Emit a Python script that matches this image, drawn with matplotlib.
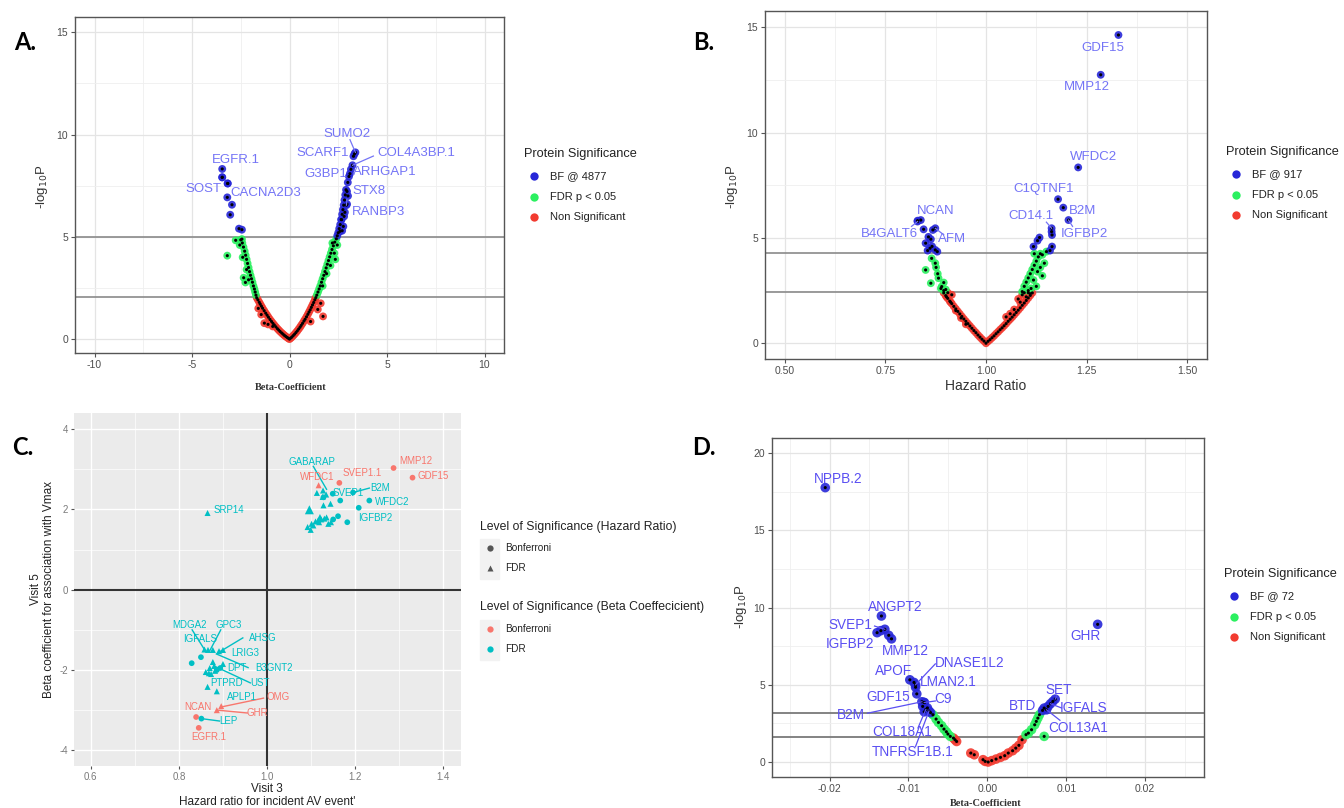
import matplotlib
matplotlib.use('Agg')
import matplotlib.pyplot as plt
from matplotlib.lines import Line2D
from matplotlib.patches import Rectangle

plt.rcParams['font.family'] = ['Liberation Sans', 'DejaVu Sans']
plt.rcParams['axes.unicode_minus'] = False

# ---------------- panel A: beta coefficient volcano ----------------
a_blue_x = [-3.45, -3.17, -3.19, -2.95, -3.04, -2.59, -2.44,
            2.45, 2.5, 2.55, 2.6, 2.65, 2.7, 2.74, 2.78, 2.82, 2.86, 2.9, 2.99, 3.15,
            2.76, 2.59, 2.67, 2.84, 2.95, 2.7, 2.8, 3.0, 3.33]
a_blue_y = [7.91, 7.61, 6.93, 6.57, 6.08, 5.40, 5.35,
            5.05, 5.2, 5.4, 5.6, 5.85, 6.1, 6.33, 6.55, 6.8, 7.05, 7.3, 7.66, 8.3,
            5.51, 5.27, 5.84, 6.2, 6.6, 5.3, 6.0, 7.0, 9.05]
a_green_x = [-1.72, -1.76, -1.8, -1.85, -1.9, -1.95, -2.0, -2.05, -2.1, -2.15, -2.2, -2.25,
             -2.3, -2.36, -2.42, -2.5, -2.26, -2.35, -2.76, -2.44, -3.19, -2.2, -2.55, -2.4, -2.1,
             1.4, 1.46, 1.52, 1.58, 1.64, 1.7, 1.76, 1.82, 1.88, 1.94, 2.0, 2.06, 2.12, 2.18,
             2.25, 2.32, 2.4, 2.1, 2.3, 1.9, 2.45, 1.7, 2.2, 2.35]
a_green_y = [2.15, 2.3, 2.45, 2.6, 2.78, 2.95, 3.12, 3.3, 3.5, 3.7, 3.9, 4.1,
             4.3, 4.5, 4.7, 4.85, 2.77, 3.0, 4.83, 4.89, 4.08, 3.4, 4.6, 4.0, 2.9,
             2.15, 2.3, 2.45, 2.6, 2.78, 2.95, 3.12, 3.3, 3.48, 3.66, 3.84, 4.02, 4.2, 4.38,
             4.56, 4.74, 4.9, 3.6, 4.2, 3.2, 4.6, 2.6, 4.7, 3.9]
a_red_x = [-1.68, -1.62, -1.55, -1.5, -1.44, -1.38, -1.3, -1.22, -1.15, -1.08, -1.0, -0.92,
           -0.85, -0.78, -0.7, -0.62, -0.55, -0.48, -0.4, -0.33, -0.26, -0.19, -0.12, -0.06, 0.0,
           0.06, 0.12, 0.19, 0.26, 0.33, 0.4, 0.47, 0.54, 0.6, 0.67, 0.74, 0.8, 0.87, 0.94,
           1.0, 1.06, 1.12, 1.18, 1.24, 1.3, 1.35,
           -1.29, -0.86, -1.1, -1.45, -1.6, 1.72, 1.08, 1.45, 1.6]
a_red_y = [2.02, 1.92, 1.80, 1.71, 1.61, 1.51, 1.39, 1.27, 1.17, 1.07, 0.96, 0.86,
           0.77, 0.69, 0.60, 0.51, 0.44, 0.37, 0.30, 0.24, 0.18, 0.13, 0.08, 0.04, 0.0,
           0.05, 0.10, 0.17, 0.24, 0.32, 0.40, 0.49, 0.58, 0.67, 0.77, 0.88, 0.97, 1.09, 1.21,
           1.32, 1.43, 1.55, 1.67, 1.79, 1.92, 2.03,
           0.78, 0.62, 0.72, 1.2, 1.5, 1.11, 0.86, 1.45, 1.75]
a_genes = ['EGFR.1', 'SOST', 'CACNA2D3', 'SUMO2', 'SCARF1', 'COL4A3BP.1',
           'G3BP1', 'ARHGAP1', 'STX8', 'RANBP3']
a_gene_x = [-3.45, -3.45, -3.17, 3.38, 3.28, 3.23, 3.05, 3.1, 2.95, 2.92]
a_gene_y = [8.32, 7.91, 7.61, 9.13, 8.94, 8.5, 7.95, 8.09, 7.22, 6.55]
a_bf, a_fdr = 4.99, 2.06

# ---------------- panel B: hazard ratio volcano ----------------
b_blue_x = [0.83, 0.845, 0.868, 0.863, 0.85, 0.861, 0.874, 0.879, 0.857, 0.866, 0.855,
            1.163, 1.164, 1.133, 1.128, 1.118, 1.164, 1.159]
b_blue_y = [5.82, 5.41, 5.38, 4.94, 4.75, 4.51, 4.43, 4.35, 5.05, 4.6, 4.4,
            5.30, 5.14, 5.02, 4.87, 4.59, 4.59, 4.40]
b_green_x = [0.895, 0.89, 0.895, 0.882, 0.863, 0.874, 0.865, 0.85, 0.876, 0.88, 0.888, 0.9,
             1.09, 1.095, 1.1, 1.105, 1.11, 1.115, 1.12, 1.125, 1.13, 1.135, 1.14, 1.145,
             1.128, 1.118, 1.125, 1.112, 1.135, 1.15, 1.12, 1.105, 1.14]
b_green_y = [2.5, 2.69, 2.88, 3.09, 2.85, 3.8, 4.03, 3.48, 3.6, 3.3, 2.6, 2.55,
             2.45, 2.7, 2.9, 3.1, 3.3, 3.5, 3.7, 3.9, 4.1, 4.25, 4.2, 3.8,
             3.4, 3.0, 2.7, 2.6, 3.6, 4.35, 4.25, 2.5, 3.2]
b_red_x = [0.895, 0.9, 0.905, 0.91, 0.915, 0.92, 0.925, 0.93, 0.935, 0.94, 0.945, 0.95,
           0.955, 0.96, 0.965, 0.97, 0.975, 0.98, 0.985, 0.99, 0.995, 1.0,
           1.005, 1.01, 1.015, 1.02, 1.025, 1.03, 1.035, 1.04, 1.045, 1.05, 1.055, 1.06,
           1.065, 1.07, 1.075, 1.08, 1.085, 1.09, 1.095, 1.1, 1.105, 1.11, 1.115,
           0.902, 0.912, 0.925, 0.938, 0.95, 0.905, 0.915,
           1.095, 1.105, 1.1, 1.085, 1.07, 1.06, 1.05, 1.11, 1.08, 1.09]
b_red_y = [2.39, 2.26, 2.13, 2.00, 1.88, 1.75, 1.63, 1.51, 1.39, 1.27, 1.15, 1.04,
           0.93, 0.82, 0.71, 0.60, 0.50, 0.39, 0.29, 0.19, 0.10, 0.0,
           0.09, 0.17, 0.26, 0.35, 0.45, 0.54, 0.64, 0.73, 0.83, 0.93, 1.04, 1.14,
           1.24, 1.35, 1.46, 1.57, 1.68, 1.80, 1.91, 2.03, 2.15, 2.27, 2.39,
           2.2, 1.95, 1.55, 1.2, 0.9, 2.4, 2.3,
           2.4, 2.4, 2.2, 1.95, 1.6, 1.4, 1.25, 2.35, 2.1, 2.3]
b_genes = ['GDF15', 'MMP12', 'WFDC2', 'C1QTNF1', 'B2M', 'IGFBP2', 'CD14.1',
           'NCAN', 'B4GALT6', 'AFM']
b_gene_x = [1.329, 1.285, 1.229, 1.179, 1.192, 1.205, 1.163, 0.838, 0.83, 0.874]
b_gene_y = [14.64, 12.75, 8.35, 6.84, 6.44, 5.85, 5.46, 5.85, 5.78, 5.46]
b_bf, b_fdr = 4.30, 2.42

# ---------------- panel C: visit 3 hazard ratio vs visit 5 beta ----------------
c_bonf_bonf_x = [1.287, 1.330, 1.164, 0.839, 0.845]
c_bonf_bonf_y = [3.03, 2.79, 2.66, -3.17, -3.44]
c_fdr_bonf_x = [1.117, 0.886, 0.896]
c_fdr_bonf_y = [2.60, -3.00, -2.90]
c_bonf_fdr_x = [1.149, 1.166, 1.232, 1.208, 1.195, 1.161, 1.182, 1.128, 1.15,
                0.829, 0.850, 0.886, 0.894, 0.851]
c_bonf_fdr_y = [2.39, 2.22, 2.22, 2.04, 2.42, 1.83, 1.68, 2.30, 1.75,
                -1.83, -1.68, -2.0, -1.95, -3.21]
c_fdr_fdr_x = [1.113, 1.126, 1.134, 1.127, 1.128, 1.144, 1.120, 1.116, 1.130, 1.139,
               1.101, 1.092, 1.099, 1.11, 1.123, 1.118, 1.135, 1.105, 1.145, 0.865,
               0.858, 0.866, 0.877, 0.891, 0.900, 0.877, 0.870, 0.861, 0.868, 0.882,
               0.900, 0.865, 0.886, 0.88, 0.873]
c_fdr_fdr_y = [2.41, 2.31, 2.37, 2.47, 2.10, 2.14, 1.81, 1.73, 1.77, 1.64,
               1.64, 1.56, 1.49, 1.70, 1.75, 1.68, 1.80, 1.60, 1.68, 1.91,
               -1.49, -1.50, -1.50, -1.53, -1.50, -1.80, -1.95, -2.05, -2.08, -2.02,
               -1.85, -2.42, -2.53, -1.90, -2.10]
c_big_x, c_big_y = [1.096], [1.99]

# ---------------- panel D: beta coefficient volcano ----------------
d_blue_x = [-0.0125, -0.0135, -0.0093, -0.0080, -0.0082, -0.0076, -0.0080, -0.0072,
            0.0072, 0.0077, 0.0083]
d_blue_y = [8.2, 8.5, 5.15, 3.85, 3.6, 3.5, 3.25, 3.2,
            3.49, 3.60, 3.92]
d_green_x = [-0.0069, -0.0065, -0.0062, -0.0058, -0.0055, -0.0052, -0.0050, -0.0047,
             0.0049, 0.0052, 0.0056, 0.0060, 0.0062, 0.0064, 0.0066, 0.0072]
d_green_y = [3.06, 2.78, 2.56, 2.35, 2.13, 1.96, 1.81, 1.66,
             1.77, 1.87, 2.09, 2.41, 2.63, 2.84, 3.06, 1.66]
d_red_x = [-0.0043, -0.0041, -0.0039, -0.0021, -0.00166, -0.00055, -0.00028, 0.0001,
           0.00055, 0.0011, 0.00166, 0.0022, 0.00265, 0.0032, 0.0036, 0.0040, 0.0044]
d_red_y = [1.55, 1.44, 1.33, 0.58, 0.47, 0.15, 0.04, 0.0,
           0.09, 0.19, 0.30, 0.41, 0.58, 0.73, 0.90, 1.08, 1.44]
d_genes = ['NPPB.2', 'ANGPT2', 'SVEP1', 'IGFBP2', 'MMP12', 'DNASE1L2', 'APOF', 'LMAN2.1',
           'GDF15', 'C9', 'B2M', 'COL18A1', 'TNFRSF1B.1', 'SET', 'BTD', 'IGFALS',
           'COL13A1', 'GHR']
d_gene_x = [-0.02055, -0.01343, -0.0130, -0.01398, -0.01215, -0.0091, -0.00983, -0.0091,
            -0.00895, -0.0080, -0.0083, -0.0078, -0.0074, 0.0086, 0.0070, 0.0080,
            0.0075, 0.01398]
d_gene_y = [17.76, 9.45, 8.59, 8.37, 7.97, 5.0, 5.32, 4.84,
            4.41, 3.85, 3.9, 3.4, 3.3, 4.07, 3.34, 3.77,
            3.38, 8.91]
d_bf, d_fdr = 3.16, 1.61

BLUE, GREEN, RED = '#2727d8', '#2bf060', '#f23b30'
SALMON, CYAN = '#F8766D', '#00BFC4'
TICK_GRAY = '#4d4d4d'

W, H = 1344, 808
fig = plt.figure(figsize=(13.44, 8.08), dpi=100)


def box(l, t, r, b):
    return [l / W, 1 - b / H, (r - l) / W, (b - t) / H]


def fx(px):
    return px / W


def fy(py):
    return 1 - py / H


def bw_axes(ax, xt, xmin, yt, ymin, xlabels):
    ax.set_xticks(xt)
    ax.set_xticks(xmin, minor=True)
    ax.set_yticks(yt)
    ax.set_yticks(ymin, minor=True)
    ax.set_xticklabels(xlabels)
    ax.grid(which='major', color='#e4e4e4', lw=0.9, zorder=0)
    ax.grid(which='minor', color='#efefef', lw=0.6, zorder=0)
    ax.set_axisbelow(True)
    ax.tick_params(which='major', length=3, width=0.8, color='#555555',
                   labelsize=7.5, labelcolor=TICK_GRAY, pad=2)
    ax.tick_params(which='minor', length=0)
    for s in ax.spines.values():
        s.set_color('#555555')
        s.set_linewidth(1.0)


def volcano(ax, xs, ys, color, size):
    ax.scatter(xs, ys, s=size, c=color, edgecolors='none', alpha=0.9, zorder=3)
    ax.scatter(xs, ys, s=5, c='black', edgecolors='none', zorder=4)


def gene_labels(ax, names, gx, gy, place, color, fs):
    for n, x, y in zip(names, gx, gy):
        tx, ty, seg = place[n]
        ax.text(tx, ty, n, color=color, fontsize=fs, ha='center', va='center', zorder=6)
        if seg is not None:
            ax.plot([seg[0], x], [seg[1], y], color=color, lw=0.9, zorder=5)


def sig_legend(x, y, title, labels, colors):
    fig.text(fx(x), fy(y), title, fontsize=9.2, color='#222222', va='center')
    for i, (lab, col) in enumerate(zip(labels, colors)):
        yy = y + 22 + 20.7 * i
        fig.add_artist(Line2D([fx(x + 10)], [fy(yy)], marker='o', ms=6, color=col,
                              mec='none', transform=fig.transFigure))
        fig.text(fx(x + 26), fy(yy), lab, fontsize=8, color='#222222', va='center')


# ---- A ----
axA = fig.add_axes(box(75, 17, 504, 353))
axA.set_xlim(-11, 11)
axA.set_ylim(-0.68, 15.75)
bw_axes(axA, [-10, -5, 0, 5, 10], [-7.5, -2.5, 2.5, 7.5], [0, 5, 10, 15],
        [2.5, 7.5, 12.5], ['-10', '-5', '0', '5', '10'])
for h in (a_bf, a_fdr):
    axA.axhline(h, color='#8a8a8a', lw=1.2, zorder=2)
volcano(axA, a_red_x, a_red_y, RED, 32)
volcano(axA, a_green_x, a_green_y, GREEN, 32)
volcano(axA, a_blue_x + a_gene_x, a_blue_y + a_gene_y, BLUE, 32)
a_place = {
    'EGFR.1': (-2.76, 8.77, None), 'SOST': (-4.42, 7.35, None),
    'CACNA2D3': (-1.21, 7.14, None), 'SUMO2': (2.97, 10.04, (3.1, 9.75)),
    'SCARF1': (1.72, 9.1, None), 'COL4A3BP.1': (6.51, 9.1, (4.3, 8.95)),
    'G3BP1': (1.88, 8.09, None), 'ARHGAP1': (4.89, 8.15, None),
    'STX8': (4.09, 7.26, None), 'RANBP3': (4.57, 6.21, (2.95, 6.85)),
}
gene_labels(axA, a_genes, a_gene_x, a_gene_y, a_place, '#7474f6', 9.5)
fig.text(fx(291), fy(388), 'Beta-Coefficient', family='Liberation Serif',
         fontweight='bold', fontsize=7.5, color='#333333', ha='center', va='center')
fig.text(fx(42), fy(187), r'-log$_{10}$P', fontsize=9.5, color='#333333',
         rotation=90, ha='center', va='center')
sig_legend(524, 154, 'Protein Significance', ['BF @ 4877', 'FDR p < 0.05', 'Non Significant'],
           [BLUE, GREEN, RED])

# ---- B ----
axB = fig.add_axes(box(765, 11, 1207, 359))
axB.set_xlim(0.451, 1.549)
axB.set_ylim(-0.75, 15.78)
bw_axes(axB, [0.5, 0.75, 1.0, 1.25, 1.5], [0.625, 0.875, 1.125, 1.375], [0, 5, 10, 15],
        [2.5, 7.5, 12.5], ['0.50', '0.75', '1.00', '1.25', '1.50'])
for h in (b_bf, b_fdr):
    axB.axhline(h, color='#8a8a8a', lw=1.2, zorder=2)
volcano(axB, b_red_x, b_red_y, RED, 32)
volcano(axB, b_green_x, b_green_y, GREEN, 32)
volcano(axB, b_blue_x + b_gene_x, b_blue_y + b_gene_y, BLUE, 32)
b_place = {
    'GDF15': (1.291, 14.03, None), 'MMP12': (1.251, 12.15, None),
    'WFDC2': (1.267, 8.86, None), 'C1QTNF1': (1.142, 7.33, None),
    'B2M': (1.240, 6.30, None), 'IGFBP2': (1.244, 5.17, (1.215, 5.55)),
    'CD14.1': (1.112, 6.04, (1.150, 5.75)), 'NCAN': (0.874, 6.30, None),
    'B4GALT6': (0.760, 5.17, (0.815, 5.55)), 'AFM': (0.915, 4.94, (0.895, 5.15)),
}
gene_labels(axB, b_genes, b_gene_x, b_gene_y, b_place, '#7474f6', 9.5)
fig.text(fx(986), fy(386), 'Hazard Ratio', fontsize=10, color='#333333',
         ha='center', va='center')
fig.text(fx(732), fy(187), r'-log$_{10}$P', fontsize=9.5, color='#333333',
         rotation=90, ha='center', va='center')
sig_legend(1226, 152, 'Protein Significance', ['BF @ 917', 'FDR p < 0.05', 'Non Significant'],
           [BLUE, GREEN, RED])

# ---- C ----
axC = fig.add_axes(box(74, 413, 461, 766))
axC.set_facecolor('#EBEBEB')
axC.set_xlim(0.562, 1.440)
axC.set_ylim(-4.39, 4.40)
axC.set_xticks([0.6, 0.8, 1.0, 1.2, 1.4])
axC.set_xticks([0.7, 0.9, 1.1, 1.3], minor=True)
axC.set_yticks([-4, -2, 0, 2, 4])
axC.set_yticks([-3, -1, 1, 3], minor=True)
axC.set_xticklabels(['0.6', '0.8', '1.0', '1.2', '1.4'])
axC.grid(which='major', color='white', lw=1.0, zorder=0)
axC.grid(which='minor', color='white', lw=0.5, zorder=0)
axC.set_axisbelow(True)
axC.tick_params(which='major', length=2.5, width=0.8, color='#555555',
                labelsize=7, labelcolor='#7a7a7a', pad=2)
axC.tick_params(which='minor', length=0)
for s in axC.spines.values():
    s.set_visible(False)
axC.axvline(1.0, color='#333333', lw=1.5, zorder=1)
axC.axhline(0.0, color='#333333', lw=1.5, zorder=1)
axC.scatter(c_bonf_bonf_x, c_bonf_bonf_y, s=17, c=SALMON, marker='o', edgecolors='none', zorder=3)
axC.scatter(c_fdr_bonf_x, c_fdr_bonf_y, s=19, c=SALMON, marker='^', edgecolors='none', zorder=3)
axC.scatter(c_bonf_fdr_x, c_bonf_fdr_y, s=17, c=CYAN, marker='o', edgecolors='none', zorder=3)
axC.scatter(c_fdr_fdr_x, c_fdr_fdr_y, s=19, c=CYAN, marker='^', edgecolors='none', zorder=3)
axC.scatter(c_big_x, c_big_y, s=42, c=CYAN, marker='^', edgecolors='none', zorder=3)

# text x, text y, colour, segment start, segment end
c_labels = [
    ('GABARAP', 1.101, 3.19, CYAN, (1.105, 3.07), (1.135, 2.50)),
    ('WFDC1', 1.113, 2.80, SALMON, None, None),
    ('SVEP1.1', 1.216, 2.90, SALMON, None, None),
    ('MMP12', 1.337, 3.20, SALMON, None, None),
    ('GDF15', 1.376, 2.82, SALMON, None, None),
    ('B2M', 1.256, 2.54, CYAN, (1.232, 2.53), (1.195, 2.42)),
    ('SVEP1', 1.185, 2.41, CYAN, None, None),
    ('WFDC2', 1.283, 2.18, CYAN, None, None),
    ('IGFBP2', 1.246, 1.79, CYAN, None, None),
    ('SRP14', 0.913, 1.99, CYAN, None, None),
    ('MDGA2', 0.824, -0.89, CYAN, (0.830, -1.00), (0.858, -1.49)),
    ('GPC3', 0.912, -0.89, CYAN, (0.895, -1.00), (0.870, -1.52)),
    ('IGFALS', 0.848, -1.24, CYAN, None, None),
    ('AHSG', 0.991, -1.20, CYAN, (0.945, -1.20), (0.895, -1.53)),
    ('LRIG3', 0.951, -1.58, CYAN, None, None),
    ('B3GNT2', 1.015, -1.94, CYAN, (0.957, -1.94), (0.885, -1.60)),
    ('DPT', 0.932, -1.94, CYAN, None, None),
    ('UST', 0.984, -2.32, CYAN, (0.962, -2.32), (0.880, -1.90)),
    ('PTPRD', 0.907, -2.32, CYAN, None, None),
    ('APLP1', 0.944, -2.67, CYAN, None, None),
    ('OMG', 1.025, -2.67, SALMON, (0.992, -2.70), (0.896, -2.92)),
    ('NCAN', 0.843, -2.92, SALMON, None, None),
    ('GHR', 0.977, -3.07, SALMON, (0.955, -3.07), (0.888, -3.00)),
    ('LEP', 0.913, -3.28, CYAN, (0.892, -3.27), (0.851, -3.21)),
    ('EGFR.1', 0.867, -3.67, SALMON, None, None),
]
for name, tx, ty, col, s0, s1 in c_labels:
    axC.text(tx, ty, name, color=col, fontsize=7, ha='center', va='center', zorder=5)
    if s0 is not None:
        axC.plot([s0[0], s1[0]], [s0[1], s1[1]], color=col, lw=1.0, zorder=4)

fig.text(fx(267), fy(789), 'Visit 3', fontsize=8.5, color='#222222', ha='center', va='center')
fig.text(fx(267), fy(802), "Hazard ratio for incident AV event'", fontsize=8.5,
         color='#222222', ha='center', va='center')
fig.text(fx(36), fy(589), 'Visit 5', fontsize=8.5, color='#222222', rotation=90,
         ha='center', va='center')
fig.text(fx(49), fy(589), 'Beta coefficient for association with Vmax', fontsize=8.5,
         color='#222222', rotation=90, ha='center', va='center')

# two legends for shape and colour
fig.text(fx(480), fy(527), 'Level of Significance (Hazard Ratio)', fontsize=8.8,
         color='#222222', va='center')
fig.text(fx(480), fy(607), 'Level of Significance (Beta Coeffecicient)', fontsize=8.8,
         color='#222222', va='center')
for y0 in (538.5, 619.5):
    fig.add_artist(Rectangle((fx(480), fy(y0 + 40)), 19 / W, 40 / H, color='#f2f2f2',
                             transform=fig.transFigure, zorder=0))
for yy, mk, col, lab in [(548.3, 'o', '#555555', 'Bonferroni'), (567.7, '^', '#555555', 'FDR'),
                         (629.3, 'o', SALMON, 'Bonferroni'), (648.7, 'o', CYAN, 'FDR')]:
    fig.add_artist(Line2D([fx(489.5)], [fy(yy)], marker=mk, ms=4.5, color=col, mec='none',
                          transform=fig.transFigure))
    fig.text(fx(505), fy(yy), lab, fontsize=7.2, color='#222222', va='center')

# ---- D ----
axD = fig.add_axes(box(772, 438, 1204, 777))
axD.set_xlim(-0.0273, 0.02746)
axD.set_ylim(-0.97, 20.97)
bw_axes(axD, [-0.02, -0.01, 0.0, 0.01, 0.02], [-0.025, -0.015, -0.005, 0.005, 0.015, 0.025],
        [0, 5, 10, 15, 20], [2.5, 7.5, 12.5, 17.5], ['-0.02', '-0.01', '0.00', '0.01', '0.02'])
for h in (d_bf, d_fdr):
    axD.axhline(h, color='#7a7a7a', lw=1.3, zorder=2)
volcano(axD, d_red_x, d_red_y, RED, 48)
volcano(axD, d_green_x, d_green_y, GREEN, 48)
volcano(axD, d_blue_x + d_gene_x, d_blue_y + d_gene_y, BLUE, 48)
d_place = {
    'NPPB.2': (-0.0189, 18.34, None), 'ANGPT2': (-0.0117, 10.05, None),
    'SVEP1': (-0.0174, 8.87, (-0.0143, 8.8)), 'IGFBP2': (-0.0174, 7.62, None),
    'MMP12': (-0.0104, 7.19, None), 'DNASE1L2': (-0.0023, 6.39, (-0.0066, 6.35)),
    'APOF': (-0.0119, 5.92, None), 'LMAN2.1': (-0.0050, 5.17, None),
    'GDF15': (-0.0126, 4.18, None), 'C9': (-0.0056, 4.07, (-0.0066, 3.95)),
    'B2M': (-0.0173, 3.06, (-0.0152, 3.16)), 'COL18A1': (-0.0108, 1.94, (-0.0088, 2.2)),
    'TNFRSF1B.1': (-0.0095, 0.65, (-0.0091, 1.01)), 'SET': (0.0090, 4.63, (0.0088, 4.3)),
    'BTD': (0.0045, 3.60, None), 'IGFALS': (0.0122, 3.49, (0.0094, 3.5)),
    'COL13A1': (0.0115, 2.20, (0.0092, 2.7)), 'GHR': (0.01243, 8.18, None),
}
gene_labels(axD, d_genes, d_gene_x, d_gene_y, d_place, '#5a4ff2', 9.8)
fig.text(fx(986), fy(803), 'Beta-Coefficient', family='Liberation Serif',
         fontweight='bold', fontsize=7.5, color='#333333', ha='center', va='center')
fig.text(fx(741), fy(607), r'-log$_{10}$P', fontsize=9.5, color='#333333',
         rotation=90, ha='center', va='center')
sig_legend(1224, 574, 'Protein Significance', ['BF @ 72', 'FDR p < 0.05', 'Non Significant'],
           [BLUE, GREEN, RED])

# panel letters
for letter, x, y in [('A.', 25, 42), ('B.', 704, 42), ('C.', 23, 447), ('D.', 704, 447)]:
    fig.text(fx(x), fy(y), letter, family=['Lato', 'DejaVu Sans'], fontweight='bold',
             fontsize=17, color='black', ha='center', va='center')

fig.savefig('out.png', dpi=100, facecolor='white')
